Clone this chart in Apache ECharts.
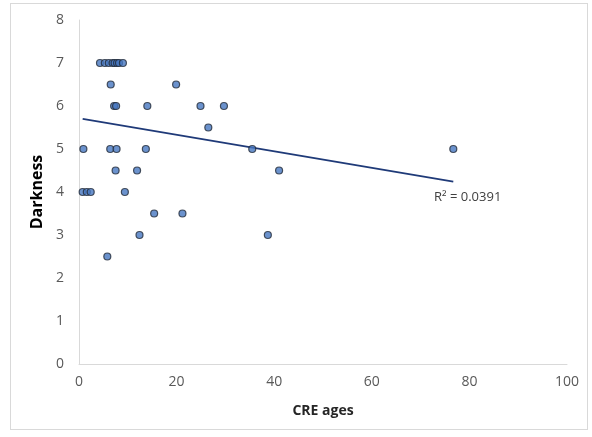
<!DOCTYPE html>
<html>
<head>
<meta charset="utf-8">
<script src="https://cdn.jsdelivr.net/npm/echarts@6/dist/echarts.min.js"></script>
<style>
html,body{margin:0;padding:0;background:#fff;}
#chart{width:592px;height:437px;}
#frame{position:absolute;left:10px;top:3px;width:578px;height:427px;border:1px solid #d9d9d9;box-sizing:border-box;pointer-events:none;}
</style>
</head>
<body>
<div id="chart"></div>
<div id="frame"></div>
<script>
// CRE ages (x) and Darkness (y)
const creAges = [
  4.3, 5.3, 6.1, 6.9, 7.3, 7.8, 8.2, 9.0,
  6.5, 19.9,
  7.2, 7.6, 14.0, 24.9, 29.7,
  26.5,
  0.9, 6.4, 7.7, 13.7, 35.5, 76.7,
  7.5, 11.9, 41.0,
  0.75, 1.6, 2.4, 9.4,
  15.4, 21.2,
  12.4, 38.7,
  5.8
];
const darkness = [
  7, 7, 7, 7, 7, 7, 7, 7,
  6.5, 6.5,
  6, 6, 6, 6, 6,
  5.5,
  5, 5, 5, 5, 5, 5,
  4.5, 4.5, 4.5,
  4, 4, 4, 4,
  3.5, 3.5,
  3, 3,
  2.5
];
// Linear trendline endpoints
const trendX = [0.75, 76.7];
const trendY = [5.70, 4.24];
const rSquaredText = 'R² = 0.0391';
const xTicks = [0, 20, 40, 60, 80, 100];
const yTicks = [0, 1, 2, 3, 4, 5, 6, 7, 8];

const points = creAges.map((x, i) => [x, darkness[i]]);
const trend = trendX.map((x, i) => [x, trendY[i]]);

const chart = echarts.init(document.getElementById('chart'), null, {renderer: 'canvas'});
const FONT = 'Open Sans, Liberation Sans, sans-serif';
const tickFont = {color: '#595959', fontSize: 14, fontFamily: FONT};
chart.setOption({
  animation: false,
  backgroundColor: '#fff',
  grid: {left: 79, right: 25, top: 20, bottom: 73, containLabel: false},
  xAxis: {
    type: 'value', min: xTicks[0], max: xTicks[xTicks.length - 1], interval: 20,
    name: 'CRE ages', nameLocation: 'middle', nameGap: 40,
    nameTextStyle: {color: '#262626', fontSize: 14, fontWeight: 'bold', fontFamily: FONT},
    axisLine: {show: true, lineStyle: {color: '#d9d9d9', width: 1}},
    axisTick: {show: false},
    splitLine: {show: false},
    axisLabel: Object.assign({margin: 11}, tickFont)
  },
  yAxis: {
    type: 'value', min: yTicks[0], max: yTicks[yTicks.length - 1], interval: 1,
    name: 'Darkness', nameLocation: 'middle', nameGap: 28, nameRotate: 90,
    nameTextStyle: {color: '#000', fontSize: 16, fontWeight: 'bold', fontFamily: FONT},
    axisLine: {show: true, lineStyle: {color: '#d9d9d9', width: 1}},
    axisTick: {show: false},
    splitLine: {show: false},
    axisLabel: Object.assign({margin: 15}, tickFont)
  },
  series: [
    {
      type: 'line', data: trend, symbol: 'none', z: 2,
      lineStyle: {color: '#1f3a78', width: 1.8},
      silent: true
    },
    {
      type: 'scatter', data: points, symbol: 'circle', symbolSize: 7, z: 3,
      itemStyle: {color: '#4677c0', borderColor: '#222b38', borderWidth: 1.2}
    }
  ],
  graphic: [{
    type: 'text', left: 434, top: 191,
    style: {text: rSquaredText, fill: '#404040', fontSize: 13, fontFamily: FONT}
  }]
});
</script>
</body>
</html>
